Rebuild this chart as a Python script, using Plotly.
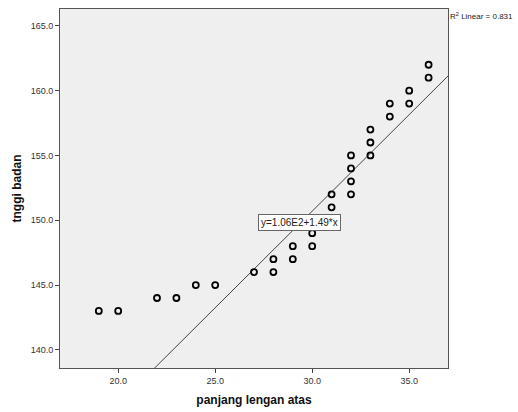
import plotly.graph_objects as go

panjang_lengan_atas = [19, 20, 22, 23, 24, 25, 27, 28, 28, 29, 29, 30, 30, 31, 31,
                       32, 32, 32, 32, 33, 33, 33, 34, 34, 35, 35, 36, 36]
tinggi_badan = [143, 143, 144, 144, 145, 145, 146, 146, 147, 147, 148, 148, 149, 151, 152,
                152, 153, 154, 155, 155, 156, 157, 158, 159, 159, 160, 161, 162]

intercept = 106.0
slope = 1.49
r2_linear = 0.831

x_range = [17.0, 37.0]
y_range = [138.6, 166.3]

line_x = [x_range[0], x_range[1]]
line_y = [intercept + slope * v for v in line_x]

fig = go.Figure()
fig.add_trace(go.Scatter(
    x=line_x, y=line_y, mode="lines",
    line=dict(color="#444444", width=1), hoverinfo="skip", showlegend=False))
fig.add_trace(go.Scatter(
    x=panjang_lengan_atas, y=tinggi_badan, mode="markers",
    marker=dict(symbol="circle-open", size=6, color="black", line=dict(width=1.8, color="black")),
    showlegend=False))

font_family = "Liberation Sans, Arial, sans-serif"

fig.add_annotation(
    x=29.36, y=149.85, xref="x", yref="y",
    text="y=1.06E2+1.49*x", showarrow=False,
    font=dict(family=font_family, size=10, color="#222222"),
    bgcolor="white", bordercolor="#666666", borderwidth=1, borderpad=2)

fig.add_annotation(
    x=1.0, y=1.0, xref="paper", yref="paper", xanchor="left", yanchor="top",
    text=f"R<sup>2</sup> Linear = {r2_linear}", showarrow=False,
    font=dict(family=font_family, size=8, color="#222222"))

fig.update_layout(
    width=518, height=412,
    margin=dict(l=60, r=70, t=8, b=40),
    paper_bgcolor="white", plot_bgcolor="#EFEFEF",
    font=dict(family=font_family, size=9, color="#333333"),
    xaxis=dict(
        range=x_range, tick0=0, dtick=5, tickformat=".1f",
        showgrid=False, zeroline=False,
        showline=True, mirror=True, linecolor="#555555", linewidth=1,
        ticks="outside", ticklen=4, tickcolor="#444444",
        title=dict(text="<b>panjang lengan atas</b>", standoff=10,
                   font=dict(family=font_family, size=12, color="#111111"))),
    yaxis=dict(
        range=y_range, tick0=0, dtick=5, tickformat=".1f",
        showgrid=False, zeroline=False,
        showline=True, mirror=True, linecolor="#555555", linewidth=1,
        ticks="outside", ticklen=4, tickcolor="#444444",
        title=dict(text="<b>tnggi badan</b>", standoff=6,
                   font=dict(family=font_family, size=12, color="#111111"))),
)

fig.write_html("out.html", config={"displayModeBar": False},
               post_script="document.body.style.margin='0px';document.body.style.padding='0px';")
